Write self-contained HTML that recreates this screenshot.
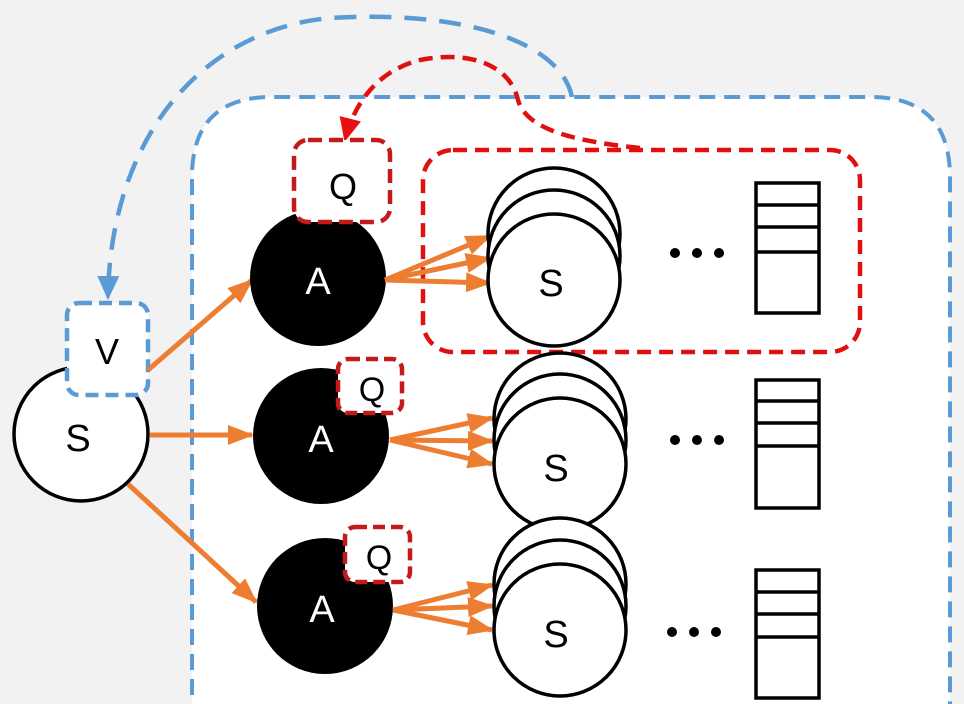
<!DOCTYPE html>
<html><head><style>html,body{margin:0;padding:0;background:#f2f2f2;overflow:hidden;width:964px;height:704px}svg{display:block}</style></head>
<body>
<svg width="964" height="704" viewBox="0 0 964 704" xmlns="http://www.w3.org/2000/svg" font-family="Liberation Sans, sans-serif">
<defs>
<marker id="aoL" markerWidth="26" markerHeight="20" refX="24" refY="10" orient="auto" markerUnits="userSpaceOnUse"><path d="M0,0 L26,10 L0,20 Z" fill="#ED7D31"/></marker>
<marker id="ab" markerWidth="24" markerHeight="22" refX="22" refY="11" orient="auto" markerUnits="userSpaceOnUse"><path d="M0,0 L24,11 L0,22 Z" fill="#5B9BD5"/></marker>
<marker id="ar" markerWidth="24" markerHeight="22" refX="22" refY="11" orient="auto" markerUnits="userSpaceOnUse"><path d="M0,0 L24,11 L0,22 Z" fill="#E81010"/></marker>
</defs>
<rect width="964" height="704" fill="#f2f2f2"/>
<path d="M192,720 L192,177 Q192,97 272,97 L870,97 Q950,97 950,177 L950,720" fill="#fff" stroke="#5B9BD5" stroke-width="4" stroke-dasharray="16,9"/>
<path d="M572,97 C560,40 460,10 330,18 C200,30 110,140 108,298" fill="none" stroke="#5B9BD5" stroke-width="4.5" stroke-dasharray="22,13" marker-end="url(#ab)"/>
<rect x="423" y="150" width="437" height="202" rx="30" fill="none" stroke="#E01010" stroke-width="4.5" stroke-dasharray="14,8"/>
<path d="M640,148 C560,140 525,125 518,100 C510,65 470,50 420,60 C380,70 355,100 345,140" fill="none" stroke="#E01010" stroke-width="4.5" stroke-dasharray="14,8" marker-end="url(#ar)"/>
<circle cx="81" cy="434" r="67" fill="#fff" stroke="#000" stroke-width="3.5"/>
<text x="78" y="451" font-size="38" text-anchor="middle">S</text>
<rect x="67" y="303" width="81" height="92" rx="12" fill="#fff" stroke="#5B9BD5" stroke-width="4.5" stroke-dasharray="13,7"/>
<text x="107" y="364" font-size="36" text-anchor="middle">V</text>
<g stroke="#ED7D31" stroke-width="5" fill="none">
<line x1="148" y1="370" x2="252" y2="280" marker-end="url(#aoL)"/>
<line x1="150" y1="435" x2="252" y2="435" marker-end="url(#aoL)"/>
<line x1="128" y1="484" x2="256" y2="602" marker-end="url(#aoL)"/>
</g>
<circle cx="318" cy="278" r="68" fill="#000"/>
<circle cx="321" cy="436" r="68" fill="#000"/>
<circle cx="325" cy="606" r="68" fill="#000"/>
<g fill="#fff" font-size="38" text-anchor="middle">
<text x="318" y="294">A</text><text x="321" y="452">A</text><text x="322" y="622">A</text>
</g>
<rect x="294" y="140" width="96" height="82" rx="14" fill="#fff" stroke="#C41A1A" stroke-width="4.5" stroke-dasharray="14,7"/>
<text x="343" y="199" font-size="36" text-anchor="middle">Q</text>
<rect x="338" y="359" width="64" height="54" rx="10" fill="#fff" stroke="#C41A1A" stroke-width="4.5" stroke-dasharray="12,6"/>
<text x="372" y="401" font-size="34" text-anchor="middle">Q</text>
<rect x="345" y="527" width="65" height="55" rx="10" fill="#fff" stroke="#C41A1A" stroke-width="4.5" stroke-dasharray="12,6"/>
<text x="379" y="569" font-size="34" text-anchor="middle">Q</text>
<g stroke="#ED7D31" stroke-width="5" fill="none">
<line x1="385" y1="280" x2="490" y2="236" marker-end="url(#aoL)"/>
<line x1="385" y1="280" x2="490" y2="258" marker-end="url(#aoL)"/>
<line x1="385" y1="280" x2="490" y2="283" marker-end="url(#aoL)"/>
<line x1="390" y1="440" x2="492" y2="418" marker-end="url(#aoL)"/>
<line x1="390" y1="440" x2="492" y2="441" marker-end="url(#aoL)"/>
<line x1="390" y1="440" x2="492" y2="464" marker-end="url(#aoL)"/>
<line x1="393" y1="610" x2="492" y2="585" marker-end="url(#aoL)"/>
<line x1="393" y1="610" x2="492" y2="606" marker-end="url(#aoL)"/>
<line x1="393" y1="610" x2="492" y2="630" marker-end="url(#aoL)"/>
</g>
<g fill="#fff" stroke="#000" stroke-width="3.5">
<circle cx="554" cy="234" r="66"/><circle cx="554" cy="256" r="66"/><circle cx="554" cy="280" r="66"/>
<circle cx="560" cy="419" r="66"/><circle cx="560" cy="440" r="66"/><circle cx="560" cy="464" r="66"/>
<circle cx="560" cy="584" r="66"/><circle cx="560" cy="606" r="66"/><circle cx="560" cy="630" r="66"/>
</g>
<g font-size="38" text-anchor="middle">
<text x="551" y="296">S</text><text x="556" y="481">S</text><text x="556" y="647">S</text>
</g>
<g fill="#000">
<circle cx="675" cy="253" r="5"/><circle cx="697" cy="253" r="5"/><circle cx="719" cy="253" r="5"/>
<circle cx="675" cy="440" r="5"/><circle cx="697" cy="440" r="5"/><circle cx="719" cy="440" r="5"/>
<circle cx="672" cy="632" r="5"/><circle cx="694" cy="632" r="5"/><circle cx="716" cy="632" r="5"/>
</g>
<g fill="#fff" stroke="#000" stroke-width="3.5">
<rect x="756" y="183" width="63" height="130"/>
<line x1="756" y1="205" x2="819" y2="205"/><line x1="756" y1="227" x2="819" y2="227"/><line x1="756" y1="252" x2="819" y2="252"/>
<rect x="756" y="380" width="63" height="128"/>
<line x1="756" y1="401" x2="819" y2="401"/><line x1="756" y1="423" x2="819" y2="423"/><line x1="756" y1="446" x2="819" y2="446"/>
<rect x="756" y="570" width="63" height="128"/>
<line x1="756" y1="592" x2="819" y2="592"/><line x1="756" y1="614" x2="819" y2="614"/><line x1="756" y1="637" x2="819" y2="637"/>
</g>
</svg>
</body></html>
